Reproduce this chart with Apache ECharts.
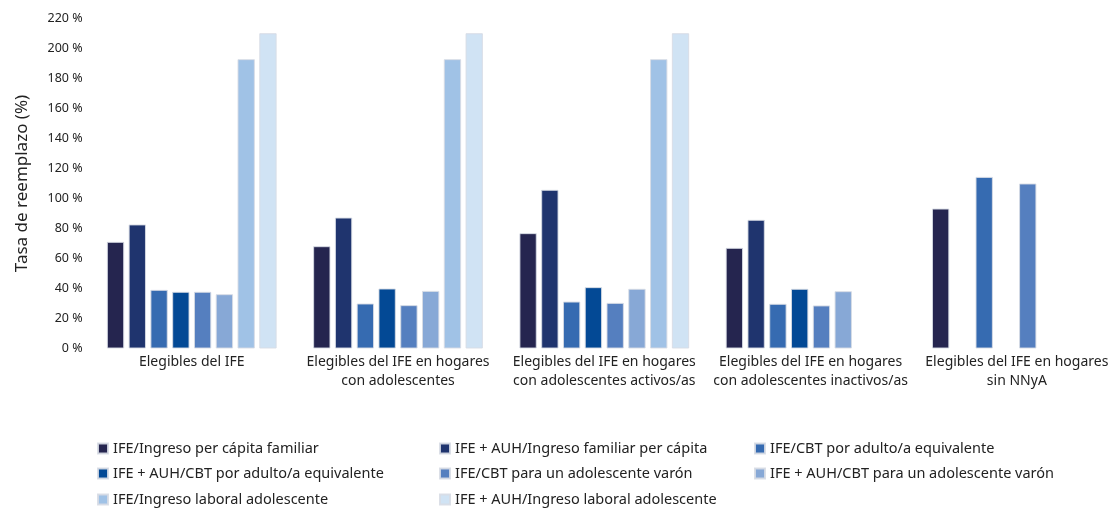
<!DOCTYPE html>
<html>
<head>
<meta charset="utf-8">
<script src="https://cdn.jsdelivr.net/npm/echarts@6/dist/echarts.min.js"></script>
<style>
  html, body { margin: 0; padding: 0; background: #ffffff; }
  #chart { width: 1120px; height: 508px; }
</style>
</head>
<body>
<div id="chart"></div>
<script>
// Grupos de hogares (eje X)
const categories = [
  'Elegibles del IFE',
  'Elegibles del IFE en hogares\ncon adolescentes',
  'Elegibles del IFE en hogares\ncon adolescentes activos/as',
  'Elegibles del IFE en hogares\ncon adolescentes inactivos/as',
  'Elegibles del IFE en hogares\nsin NNyA'
];

// Tasas de reemplazo (%) por indicador
const ifeIngresoPc        = [71.1, 68.2, 76.9, 67.1, 93.3];
const ifeAuhIngresoPc     = [82.7, 87.3, 105.8, 85.8, null];
const ifeCbtAdulto        = [39.1, 30.0, 31.3, 29.8, 114.4];
const ifeAuhCbtAdulto     = [37.8, 40.0, 40.9, 39.8, null];
const ifeCbtAdolescente   = [37.8, 28.9, 30.4, 28.7, 110.0];
const ifeAuhCbtAdolesc    = [36.2, 38.4, 39.8, 38.2, null];
const ifeIngresoLaboral   = [192.9, 192.9, 192.9, null, null];
const ifeAuhIngresoLab    = [210.2, 210.2, 210.2, null, null];

const seriesNames = [
  'IFE/Ingreso per cápita familiar',
  'IFE + AUH/Ingreso familiar per cápita',
  'IFE/CBT por adulto/a equivalente',
  'IFE + AUH/CBT por adulto/a equivalente',
  'IFE/CBT para un adolescente varón',
  'IFE + AUH/CBT para un adolescente varón',
  'IFE/Ingreso laboral adolescente',
  'IFE + AUH/Ingreso laboral adolescente'
];
const seriesData = [
  ifeIngresoPc, ifeAuhIngresoPc, ifeCbtAdulto, ifeAuhCbtAdulto,
  ifeCbtAdolescente, ifeAuhCbtAdolesc, ifeIngresoLaboral, ifeAuhIngresoLab
];
const colors = ['#25254f', '#1f346e', '#366bb1', '#034995', '#557fbf', '#87a8d6', '#a0c2e6', '#d0e3f4'];

const yTicks = [0, 20, 40, 60, 80, 100, 120, 140, 160, 180, 200, 220];

const FONT = '"Noto Sans", "Open Sans", sans-serif';

// Legend laid out as a 3-column grid: one legend component per entry
const legendCols = [97, 439, 754];
const legendRows = [441, 466, 492];
const legends = seriesNames.map((name, i) => ({
  left: legendCols[i % 3],
  top: legendRows[Math.floor(i / 3)],
  itemWidth: 10,
  itemHeight: 10,
  icon: 'rect',
  selectedMode: false,
  padding: 0,
  data: [name],
  textStyle: { fontFamily: FONT, fontSize: 14.5, color: '#222222' }
}));

const chart = echarts.init(document.getElementById('chart'), null, { renderer: 'canvas' });

chart.setOption({
  animation: false,
  backgroundColor: '#ffffff',
  color: colors,
  textStyle: { fontFamily: FONT },
  grid: { left: 88.6, right: -7.6, top: 18.5, bottom: 159.5, containLabel: false },
  legend: legends,
  xAxis: {
    type: 'category',
    data: categories,
    axisLine: { show: false },
    axisTick: { show: false },
    axisLabel: {
      interval: 0,
      margin: 4,
      fontFamily: FONT,
      fontSize: 14,
      color: '#222222',
      lineHeight: 19
    }
  },
  yAxis: {
    type: 'value',
    min: yTicks[0],
    max: yTicks[yTicks.length - 1],
    interval: 20,
    name: 'Tasa de reemplazo (%)',
    nameLocation: 'middle',
    nameGap: 58,
    nameRotate: 90,
    nameTextStyle: { fontFamily: FONT, fontSize: 17, color: '#222222' },
    axisLine: { show: false },
    axisTick: { show: false },
    splitLine: { show: false },
    axisLabel: {
      margin: 6,
      fontFamily: FONT,
      fontSize: 12.5,
      color: '#222222',
      formatter: v => v + ' %'
    }
  },
  series: seriesData.map((d, i) => ({
    name: seriesNames[i],
    type: 'bar',
    data: d,
    barGap: '25.6%',
    barCategoryGap: '17.7%',
    itemStyle: {
      color: colors[i],
      borderColor: 'rgba(215,220,228,0.9)',
      borderWidth: 1
    }
  }))
});
</script>
</body>
</html>
